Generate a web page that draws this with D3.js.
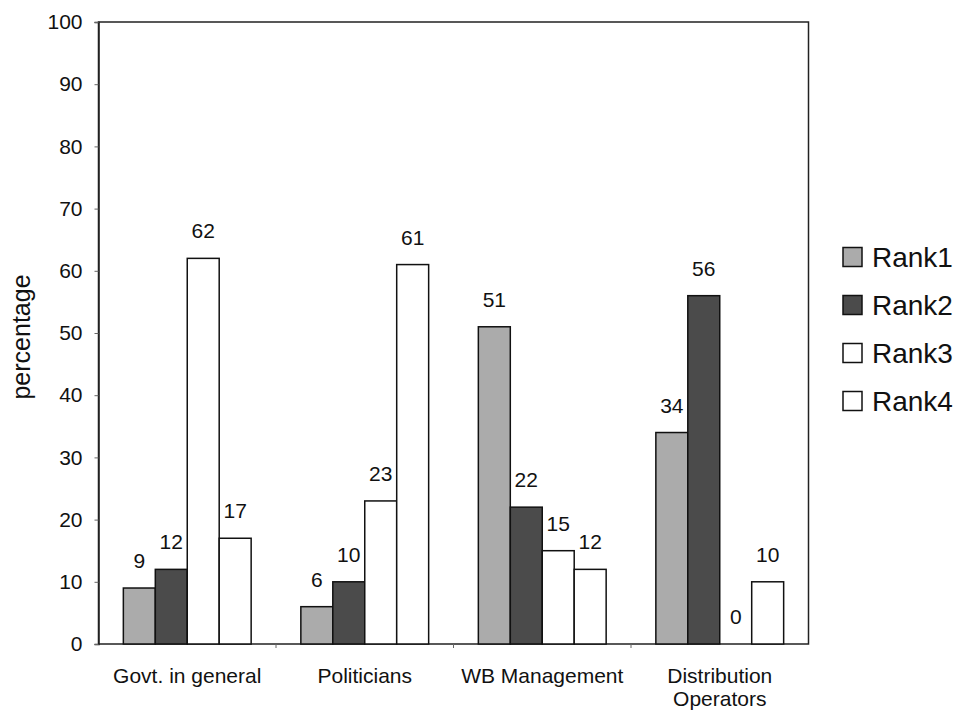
<!DOCTYPE html>
<html>
<head>
<meta charset="utf-8">
<script src="https://cdn.jsdelivr.net/npm/d3@7"></script>
<style>
  body { margin: 0; background: #fff; }
  svg { display: block; font-family: "Liberation Sans", Arial, sans-serif; }
</style>
</head>
<body>
<svg id="chart" width="961" height="718"></svg>
<script>
// Ranking of stakeholder groups (percentage of respondents per rank)
const categories = [["Govt. in general"], ["Politicians"], ["WB Management"], ["Distribution", "Operators"]];
const series = ["Rank1", "Rank2", "Rank3", "Rank4"];
const rank1 = [9, 6, 51, 34];
const rank2 = [12, 10, 22, 56];
const rank3 = [62, 23, 15, 0];
const rank4 = [17, 61, 12, 10];
const yTicks = [0, 10, 20, 30, 40, 50, 60, 70, 80, 90, 100];

const values = [rank1, rank2, rank3, rank4];
const fills = ["#ababab", "#4b4b4b", "#ffffff", "#ffffff"];

const svg = d3.select("#chart");
const plot = { left: 98.5, right: 808.5, top: 22, bottom: 644 };

const catKeys = categories.map(c => c.join(" "));
const x0 = d3.scaleBand()
  .domain(catKeys)
  .range([plot.left, plot.right])
  .paddingInner(0.28)
  .paddingOuter(0.14);
const x1 = d3.scaleBand()
  .domain(series)
  .range([0, x0.bandwidth()]);
const y = d3.scaleLinear().domain([0, 100]).range([plot.bottom, plot.top]);

// Plot frame
svg.append("rect")
  .attr("x", plot.left).attr("y", plot.top)
  .attr("width", plot.right - plot.left).attr("height", plot.bottom - plot.top)
  .attr("fill", "none").attr("stroke", "#222").attr("stroke-width", 1.5);

// Y axis
const yAxis = svg.append("g")
  .attr("transform", `translate(${plot.left},0)`)
  .call(d3.axisLeft(y).tickValues(yTicks).tickSize(4).tickPadding(12));
yAxis.select(".domain").attr("stroke", "#222").attr("stroke-width", 1.5);
yAxis.selectAll(".tick line").attr("stroke", "#666");
yAxis.selectAll("text").attr("font-size", 21).attr("fill", "#111")
  .attr("font-family", "Liberation Sans, Arial, sans-serif");

// Category boundary ticks on the x axis
const step = x0.step();
svg.append("g").selectAll("line")
  .data(d3.range(1, categories.length))
  .join("line")
  .attr("x1", i => plot.left + i * step).attr("x2", i => plot.left + i * step)
  .attr("y1", plot.bottom).attr("y2", plot.bottom + 4)
  .attr("stroke", "#666");

// Bars
const groups = svg.append("g").selectAll("g")
  .data(catKeys)
  .join("g")
  .attr("transform", d => `translate(${x0(d)},0)`);

groups.selectAll("rect")
  .data((d, ci) => series.map((s, si) => ({ s, si, v: values[si][ci] })))
  .join("rect")
  .attr("x", d => x1(d.s))
  .attr("y", d => y(d.v))
  .attr("width", x1.bandwidth())
  .attr("height", d => y(0) - y(d.v))
  .attr("fill", d => fills[d.si])
  .attr("stroke", "#111")
  .attr("stroke-width", 1.5);

// Value labels
groups.selectAll("text")
  .data((d, ci) => series.map((s, si) => ({ s, si, v: values[si][ci] })))
  .join("text")
  .attr("x", d => x1(d.s) + x1.bandwidth() / 2)
  .attr("y", d => y(d.v) - 20)
  .attr("text-anchor", "middle")
  .attr("font-size", 21)
  .attr("fill", "#111")
  .text(d => d.v);

// Category labels
const catLabels = svg.append("g").selectAll("text")
  .data(categories)
  .join("text")
  .attr("x", (d, i) => x0(catKeys[i]) + x0.bandwidth() / 2)
  .attr("y", 683)
  .attr("text-anchor", "middle")
  .attr("font-size", 21)
  .attr("fill", "#111");
catLabels.selectAll("tspan")
  .data(d => d)
  .join("tspan")
  .attr("x", function () { return d3.select(this.parentNode).attr("x"); })
  .attr("dy", (d, i) => i === 0 ? 0 : 23)
  .text(d => d);

// Y axis title
svg.append("text")
  .attr("transform", "translate(30,337) rotate(-90)")
  .attr("text-anchor", "middle")
  .attr("font-size", 25)
  .attr("fill", "#111")
  .text("percentage");

// Legend
const legend = svg.append("g").selectAll("g")
  .data(series)
  .join("g")
  .attr("transform", (d, i) => `translate(843,${257 + i * 48})`);
legend.append("rect")
  .attr("x", 0).attr("y", -9.5)
  .attr("width", 19).attr("height", 19)
  .attr("fill", (d, i) => fills[i])
  .attr("stroke", "#111").attr("stroke-width", 1.5);
legend.append("text")
  .attr("x", 29).attr("y", 10)
  .attr("font-size", 28)
  .attr("fill", "#111")
  .text(d => d);
</script>
</body>
</html>
